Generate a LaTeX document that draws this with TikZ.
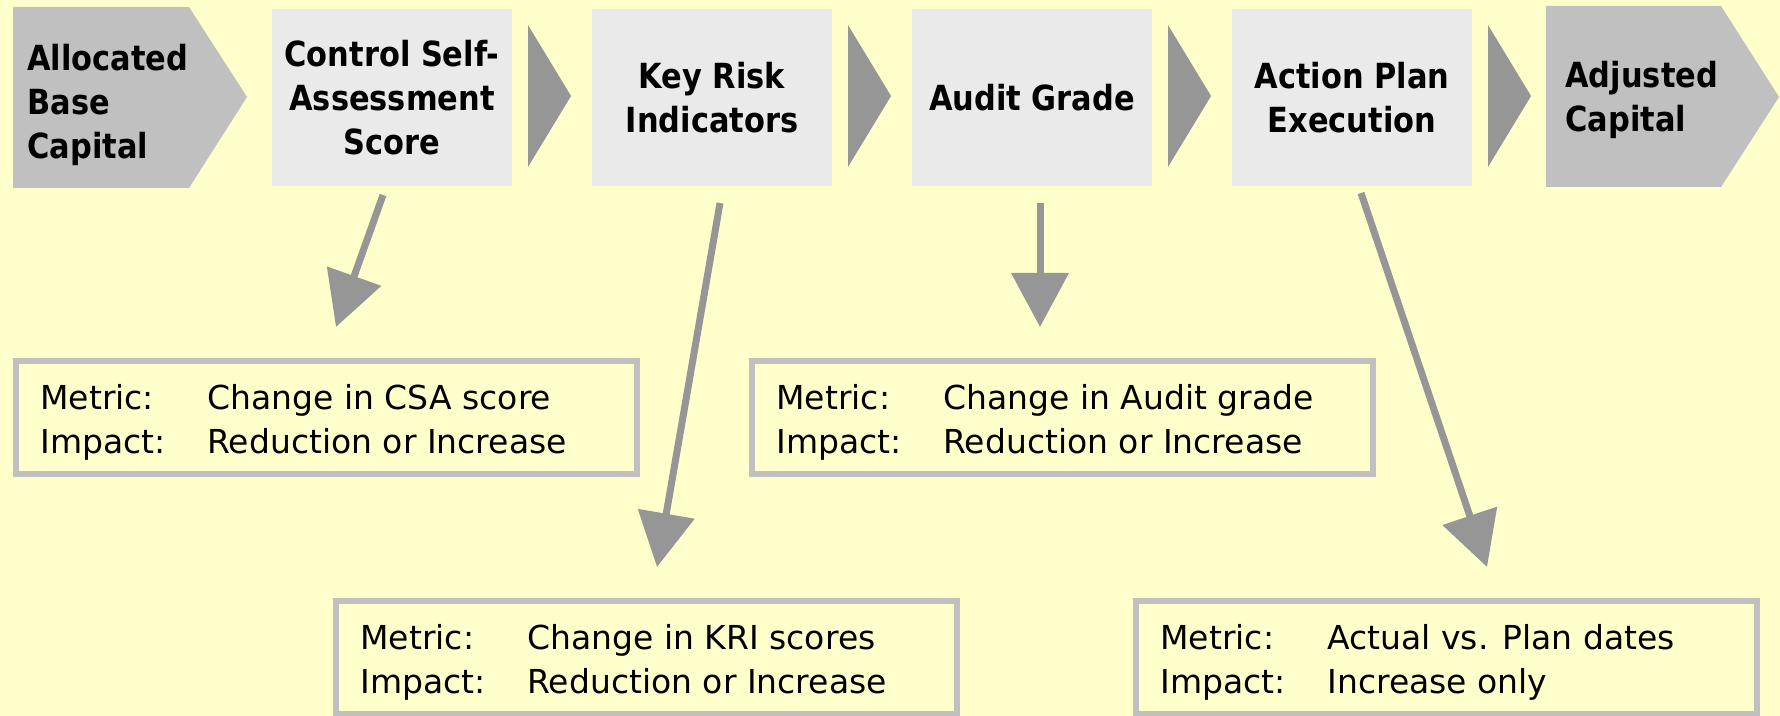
\documentclass[tikz,border=0pt]{standalone}
\usepackage{fontspec}
\setmainfont{DejaVu Sans}
\newfontfamily\hdfont{DejaVu Sans}[FakeStretch=0.88]
\usetikzlibrary{arrows.meta}
\definecolor{bgyellow}{HTML}{FFFFCC}
\definecolor{boxgray}{HTML}{EAEAEA}
\definecolor{chevgray}{HTML}{C0C0C0}
\definecolor{darkgray}{HTML}{969696}
\definecolor{bordergray}{HTML}{C0C0C0}
\tikzset{
  topbox/.style={fill=boxgray, minimum width=120pt, minimum height=88.5pt, inner sep=0pt, align=center,
    font=\hdfont\bfseries\fontsize{17.3pt}{22pt}\selectfont},
  chevtext/.style={anchor=west, inner sep=0pt, align=left,
    font=\hdfont\bfseries\fontsize{17.3pt}{22pt}\selectfont},
  chevshape/.style={fill=chevgray},
  flowtri/.style={fill=darkgray},
  metricbox/.style={draw=bordergray, line width=3pt, fill=bgyellow, minimum height=56.5pt,
    minimum width=310.5pt, inner sep=0pt},
  metrictext/.style={anchor=west, inner sep=0pt, align=left,
    font=\fontsize{16.5pt}{22pt}\selectfont},
  linkarrow/.style={draw=darkgray, line width=3.5pt, -{Triangle[width=28pt,length=27pt]}}
}
\newcommand{\mline}[2]{\makebox[83.5pt][l]{#1}#2}
\begin{document}
\begin{tikzpicture}[x=0.5pt, y=-0.5pt]
\fill[bgyellow] (0,0) rectangle (1780,716);
\useasboundingbox (0,0) rectangle (1780,716);
% chevrons
\fill[chevshape] (13,7) -- (189,7) -- (247,97) -- (189,188) -- (13,188) -- cycle;
\fill[chevshape] (1546,6) -- (1721,6) -- (1779,97) -- (1721,187) -- (1546,187) -- cycle;
\node[chevtext] (alloc) at (27,105) {Allocated\\Base\\Capital};
\node[chevtext] (adj) at (1565,100) {Adjusted\\Capital};
% boxes
\node[topbox] (csa) at (392,97.5) {Control Self-\\Assessment\\Score};
\node[topbox] (kri) at (712,97.5) {Key Risk\\Indicators};
\node[topbox] (aud) at (1032,97.5) {Audit Grade};
\node[topbox] (act) at (1352,97.5) {Action Plan\\Execution};
% flow triangles
\foreach \dx in {0,320,640,960}{
  \fill[flowtri] (528+\dx,25) -- (571+\dx,96) -- (528+\dx,167) -- cycle;
}
% metric boxes
\node[metricbox] (m1) at (326.5,417.5) {};
\node[metricbox] (m3) at (1062.5,417.5) {};
\node[metricbox] (m2) at (646.5,657.5) {};
\node[metricbox] (m4) at (1446.5,657.5) {};
\node[metrictext] (t1) at (40,422) {\mline{Metric:}{Change in CSA score}\\\mline{Impact:}{Reduction or Increase}};
\node[metrictext] (t3) at (776,422) {\mline{Metric:}{Change in Audit grade}\\\mline{Impact:}{Reduction or Increase}};
\node[metrictext] (t2) at (360,662) {\mline{Metric:}{Change in KRI scores}\\\mline{Impact:}{Reduction or Increase}};
\node[metrictext] (t4) at (1160,662) {\mline{Metric:}{Actual vs. Plan dates}\\\mline{Impact:}{Increase only}};
% arrows
\coordinate (s1) at (383,195); \coordinate (e1) at (336,327);
\coordinate (s2) at (720,203); \coordinate (e2) at (657,567);
\coordinate (s3) at (1040,203); \coordinate (e3) at (1040,327);
\coordinate (s4) at (1361,193); \coordinate (e4) at (1487,567);
\draw[linkarrow] (s1) -- (e1);
\draw[linkarrow] (s2) -- (e2);
\draw[linkarrow] (s3) -- (e3);
\draw[linkarrow] (s4) -- (e4);
\end{tikzpicture}
\end{document}
